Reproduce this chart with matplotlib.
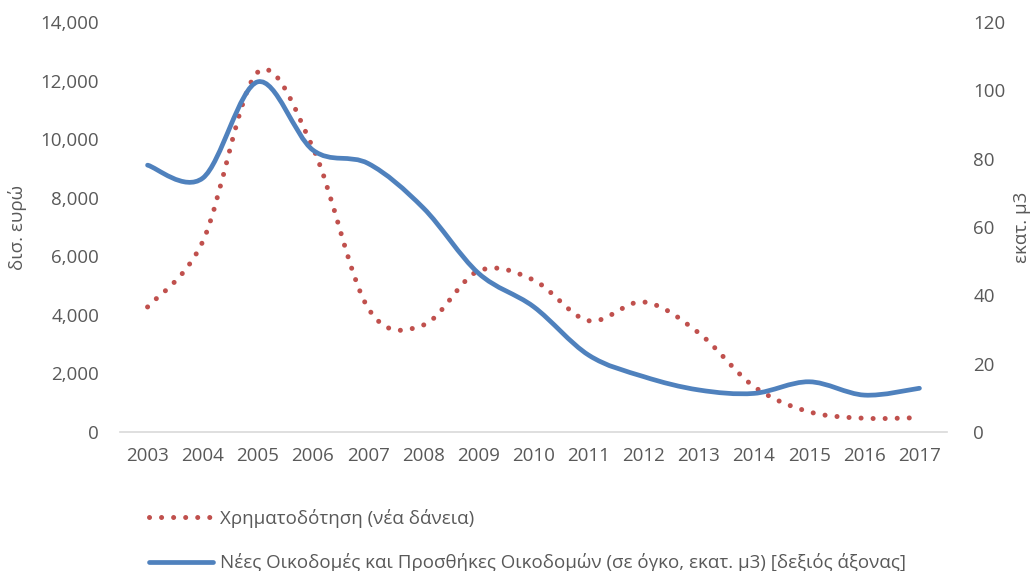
import numpy as np
import matplotlib.pyplot as plt
from matplotlib.path import Path
from matplotlib.patches import PathPatch
from matplotlib.lines import Line2D
from matplotlib.ticker import FuncFormatter

plt.rcParams['font.family'] = ['Open Sans', 'DejaVu Sans']

# data
years = ['2003', '2004', '2005', '2006', '2007', '2008', '2009', '2010',
         '2011', '2012', '2013', '2014', '2015', '2016', '2017']
loans = [4270, 6500, 12290, 9700, 4230, 3650, 5500, 5190,
         3800, 4440, 3380, 1550, 690, 470, 490]
volume = [78.1, 74.3, 102.5, 82.5, 78.6, 65.6, 46.5, 36.7,
          22.5, 16.2, 12.3, 11.3, 14.7, 10.8, 12.8]

label_loans = 'Χρηματοδότηση (νέα δάνεια)'
label_volume = 'Νέες Οικοδομές και Προσθήκες Οικοδομών (σε όγκο, εκατ. μ3) [δεξιός άξονας]'

red = '#C0504D'
blue = '#4F81BD'
grey = '#595959'
fs = 13.5


def smooth_path(xs, ys):
    # excel style smoothed line: cubic bezier through each point
    p = np.column_stack([xs, ys]).astype(float)
    n = len(p)
    verts = [p[0]]
    codes = [Path.MOVETO]
    for i in range(n - 1):
        p0 = p[i - 1] if i > 0 else p[i]
        p3 = p[i + 2] if i + 2 < n else p[i + 1]
        c1 = p[i] + (p[i + 1] - p0) / 6
        c2 = p[i + 1] - (p3 - p[i]) / 6
        verts += [c1, c2, p[i + 1]]
        codes += [Path.CURVE4] * 3
    return Path(verts, codes)


fig = plt.figure(figsize=(10.32, 5.71), dpi=100)
ax = fig.add_axes([120 / 1032, 139 / 571, 827 / 1032, 410 / 571])
ax2 = ax.twinx()

x = np.arange(len(years))

red_patch = PathPatch(smooth_path(x, loans), fill=False, edgecolor=red,
                      linewidth=3.6, linestyle=(0, (0.01, 2.4)),
                      capstyle='round', transform=ax.transData)
ax.add_patch(red_patch)
blue_patch = PathPatch(smooth_path(x, volume), fill=False, edgecolor=blue,
                       linewidth=3.4, capstyle='round', joinstyle='round',
                       transform=ax2.transData)
ax2.add_patch(blue_patch)
ax2.set_zorder(ax.get_zorder() + 1)

ax.set_xlim(-0.5, len(years) - 0.5)
ax.set_ylim(0, 14000)
ax2.set_ylim(0, 120)
ax.set_yticks(np.arange(0, 14001, 2000))
ax2.set_yticks(np.arange(0, 121, 20))
ax.yaxis.set_major_formatter(FuncFormatter(lambda v, _: f'{int(v):,}'))
ax.set_xticks(x)
ax.set_xticklabels(years)

for a in (ax, ax2):
    for s in a.spines.values():
        s.set_visible(False)
    a.tick_params(length=0, labelsize=fs, colors=grey)
ax.spines['bottom'].set_visible(True)
ax.spines['bottom'].set_color('#D9D9D9')
ax.spines['bottom'].set_linewidth(1.2)
ax.tick_params(axis='y', pad=15)
ax.tick_params(axis='x', pad=11)
ax2.tick_params(axis='y', pad=19)

ax.set_ylabel('δισ. ευρώ', fontsize=fs, color=grey, labelpad=10)
ax2.set_ylabel('εκατ. μ3', fontsize=fs, color=grey, labelpad=5)

handles = [
    Line2D([], [], color=red, linewidth=3.6, linestyle=(0, (0.01, 2.4)),
           dash_capstyle='round'),
    Line2D([], [], color=blue, linewidth=3.4, solid_capstyle='round'),
]
fig.legend(handles, [label_loans, label_volume], loc='upper left',
           bbox_to_anchor=(132 / 1032, 1 - 492 / 571), frameon=False,
           fontsize=fs, labelcolor=grey, handlelength=3.4,
           handletextpad=0.4, labelspacing=1.35)

fig.savefig('out.png', dpi=100)
